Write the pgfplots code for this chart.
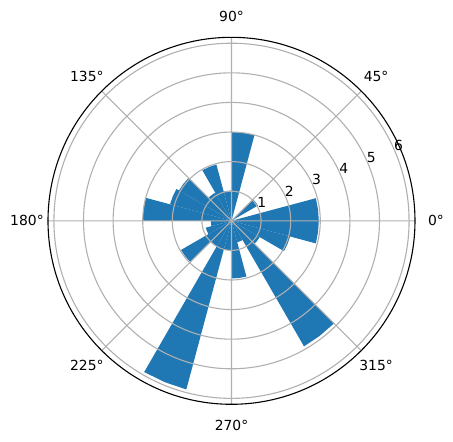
\documentclass[border=0pt]{standalone}
\usepackage{fontspec}
\setmainfont{DejaVu Sans}
\usepackage{pgfplots}
\pgfplotsset{compat=1.18}
\usepgfplotslibrary{polar}
\definecolor{mplblue}{HTML}{1F77B4}
\definecolor{mplgrid}{HTML}{B0B0B0}
\begin{document}
\begin{tikzpicture}
\path[use as bounding box] (-231.5pt,-221.2pt) rectangle (221.5pt,220.8pt);
\begin{polaraxis}[
  at={(0,0)}, anchor=center,
  scale only axis, width=367pt, height=367pt,
  ymin=0, ymax=6.2,
  xtick={0,45,...,315},
  xticklabels={},
  ytick={1,2,3,4,5,6},
  yticklabels={},
  grid=major,
  major grid style={draw=mplgrid, line width=1.1pt},
  x axis line style={black, line width=1.1pt},
  y axis line style={draw=none},
  major tick length=0pt,
  axis on top,
  clip=false,
]
% bars: 15 degree bins
\addplot[fill=mplblue, draw=none] coordinates {(0,0) (0,2.95) (7.5,2.95) (15,2.95) (15,0)};
\addplot[fill=mplblue, draw=none] coordinates {(30,0) (30,1.03) (37.5,1.03) (45,1.03) (45,0)};
\addplot[fill=mplblue, draw=none] coordinates {(75,0) (75,3.0) (82.5,3.0) (90,3.0) (90,0)};
\addplot[fill=mplblue, draw=none] coordinates {(90,0) (90,1.02) (97.5,1.02) (105,1.02) (105,0)};
\addplot[fill=mplblue, draw=none] coordinates {(105,0) (105,1.97) (112.5,1.97) (120,1.97) (120,0)};
\addplot[fill=mplblue, draw=none] coordinates {(120,0) (120,1.1) (127.5,1.1) (135,1.1) (135,0)};
\addplot[fill=mplblue, draw=none] coordinates {(135,0) (135,2.05) (142.5,2.05) (150,2.05) (150,0)};
\addplot[fill=mplblue, draw=none] coordinates {(150,0) (150,2.15) (157.5,2.15) (165,2.15) (165,0)};
\addplot[fill=mplblue, draw=none] coordinates {(165,0) (165,3.0) (172.5,3.0) (180,3.0) (180,0)};
\addplot[fill=mplblue, draw=none] coordinates {(180,0) (180,0.7) (187.5,0.7) (195,0.7) (195,0)};
\addplot[fill=mplblue, draw=none] coordinates {(195,0) (195,0.9) (202.5,0.9) (210,0.9) (210,0)};
\addplot[fill=mplblue, draw=none] coordinates {(210,0) (210,1.97) (217.5,1.97) (225,1.97) (225,0)};
\addplot[fill=mplblue, draw=none] coordinates {(225,0) (225,1.0) (232.5,1.0) (240,1.0) (240,0)};
\addplot[fill=mplblue, draw=none] coordinates {(240,0) (240,5.9) (247.5,5.9) (255,5.9) (255,0)};
\addplot[fill=mplblue, draw=none] coordinates {(255,0) (255,1.0) (262.5,1.0) (270,1.0) (270,0)};
\addplot[fill=mplblue, draw=none] coordinates {(270,0) (270,1.95) (277.5,1.95) (285,1.95) (285,0)};
\addplot[fill=mplblue, draw=none] coordinates {(285,0) (285,0.75) (292.5,0.75) (300,0.75) (300,0)};
\addplot[fill=mplblue, draw=none] coordinates {(300,0) (300,4.9) (307.5,4.9) (315,4.9) (315,0)};
\addplot[fill=mplblue, draw=none] coordinates {(315,0) (315,1.1) (322.5,1.1) (330,1.1) (330,0)};
\addplot[fill=mplblue, draw=none] coordinates {(330,0) (330,2.05) (337.5,2.05) (345,2.05) (345,0)};
\addplot[fill=mplblue, draw=none] coordinates {(345,0) (345,2.95) (352.5,2.95) (360,2.95) (360,0)};
% radial tick labels
\foreach \r in {1,...,6} {
  \edef\tmp{\noexpand\node[anchor=south, inner sep=0pt, xshift=3pt, yshift=1.5pt, font=\noexpand\fontsize{13.9}{16}\noexpand\selectfont] at (axis cs:22.5,\r) {\r};}
  \tmp
}
% angular tick labels, centred at a fixed radius
\foreach \a in {0,45,...,315} {
  \edef\tmp{\noexpand\node[anchor=center, inner sep=0pt, font=\noexpand\fontsize{13.9}{16}\noexpand\selectfont] at (axis cs:\a,6.91) {\a°};}
  \tmp
}
\end{polaraxis}
\end{tikzpicture}
\end{document}
